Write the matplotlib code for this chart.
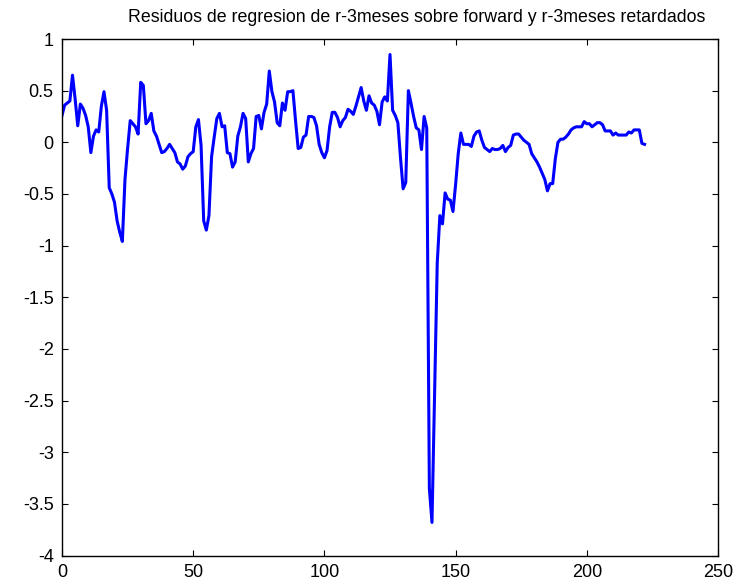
import numpy as np
import matplotlib
matplotlib.use('Agg')
import matplotlib.pyplot as plt

plt.rcParams['font.family'] = ['Liberation Sans', 'DejaVu Sans']

# residuos de la regresion, uno por periodo
residuos = [
    0.26, 0.36, 0.38, 0.40, 0.65, 0.42, 0.16, 0.37, 0.33, 0.26,
    0.15, -0.10, 0.06, 0.12, 0.10, 0.35, 0.49, 0.31, -0.44, -0.50,
    -0.58, -0.76, -0.87, -0.96, -0.36, -0.06, 0.21, 0.18, 0.15, 0.08,
    0.58, 0.55, 0.18, 0.21, 0.28, 0.11, 0.06, -0.02, -0.10, -0.09,
    -0.06, -0.02, -0.06, -0.10, -0.19, -0.21, -0.26, -0.23, -0.14, -0.11,
    -0.09, 0.15, 0.22, -0.03, -0.76, -0.85, -0.71, -0.14, 0.05, 0.23,
    0.28, 0.15, 0.16, -0.10, -0.11, -0.24, -0.19, 0.06, 0.15, 0.28,
    0.23, -0.19, -0.11, -0.06, 0.25, 0.26, 0.13, 0.29, 0.37, 0.69,
    0.49, 0.39, 0.19, 0.16, 0.38, 0.31, 0.49, 0.49, 0.50, 0.21,
    -0.06, -0.05, 0.05, 0.07, 0.25, 0.25, 0.24, 0.16, -0.02, -0.10,
    -0.15, -0.08, 0.15, 0.29, 0.29, 0.24, 0.15, 0.21, 0.24, 0.32,
    0.30, 0.27, 0.35, 0.44, 0.53, 0.40, 0.31, 0.45, 0.38, 0.36,
    0.30, 0.17, 0.39, 0.44, 0.40, 0.85, 0.31, 0.26, 0.19, -0.15,
    -0.45, -0.39, 0.50, 0.38, 0.25, 0.14, 0.12, -0.07, 0.25, 0.14,
    -3.35, -3.68, -2.40, -1.17, -0.71, -0.79, -0.49, -0.55, -0.56, -0.67,
    -0.41, -0.11, 0.09, -0.02, -0.02, -0.02, -0.04, 0.06, 0.10, 0.11,
    0.02, -0.05, -0.07, -0.09, -0.06, -0.07, -0.07, -0.06, -0.03, -0.09,
    -0.05, -0.03, 0.07, 0.08, 0.08, 0.05, 0.02, 0.00, -0.02, -0.11,
    -0.15, -0.19, -0.24, -0.30, -0.36, -0.47, -0.40, -0.40, -0.16, 0.00,
    0.03, 0.03, 0.05, 0.08, 0.12, 0.14, 0.15, 0.15, 0.15, 0.20,
    0.18, 0.18, 0.15, 0.17, 0.19, 0.19, 0.17, 0.11, 0.11, 0.11,
    0.07, 0.09, 0.07, 0.07, 0.07, 0.07, 0.10, 0.09, 0.12, 0.12,
    0.12, -0.01, -0.02,
]
xticks = [0, 50, 100, 150, 200, 250]
yticks = [1, 0.5, 0, -0.5, -1, -1.5, -2, -2.5, -3, -3.5, -4]
ytick_labels = ['1', '0.5', '0', '-0.5', '-1', '-1.5', '-2', '-2.5', '-3', '-3.5', '-4']

fig = plt.figure(figsize=(7.44, 5.87), dpi=100)
ax = fig.add_axes([62 / 744, 1 - 555.5 / 587, 656 / 744, 516.5 / 587])

t = np.arange(len(residuos))
ax.plot(t, residuos, color=(0, 0, 1), linewidth=2.2)

ax.set_xlim(0, 250)
ax.set_ylim(-4, 1)
ax.set_xticks(xticks)
ax.set_yticks(yticks)
ax.set_yticklabels(ytick_labels)
ax.tick_params(direction='in', length=4.3, width=0.8, labelsize=13,
               top=True, right=True, pad=6)
for s in ax.spines.values():
    s.set_linewidth(1.0)

ax.set_title('Residuos de regresion de r-3meses sobre forward y r-3meses retardados',
             fontsize=12.8, pad=12, x=0.54)

fig.savefig('out.png', dpi=100)
